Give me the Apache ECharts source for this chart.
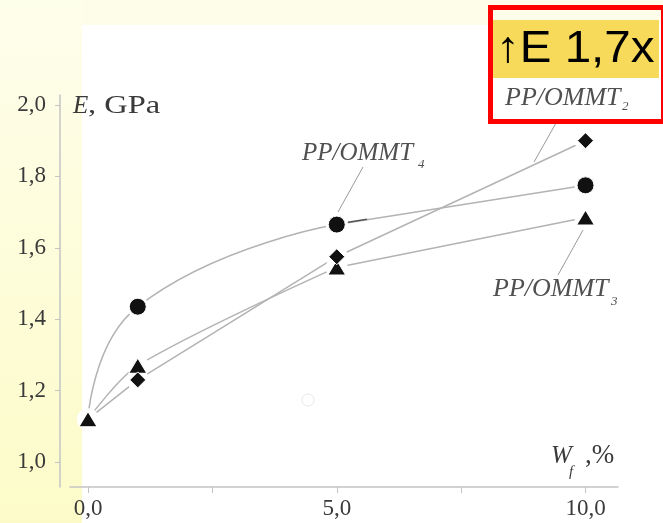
<!DOCTYPE html>
<html><head><meta charset="utf-8">
<script src="https://cdn.jsdelivr.net/npm/echarts@6/dist/echarts.min.js"></script>
<style>html,body{margin:0;padding:0;background:#fff}#c{width:663px;height:523px}</style>
</head><body><div id="c"></div>
<script>
// ---- data ----
const wf = [0, 1, 5, 10];                    // W_f, %
const ommt4 = [1.12, 1.435, 1.665, 1.775];   // PP/OMMT4 (circles)
const ommt3 = [1.12, 1.27, 1.545, 1.685];    // PP/OMMT3 (triangles)
const ommt2 = [1.12, 1.23, 1.575, 1.90];     // PP/OMMT2 (diamonds)
const xTicks = [0, 2.5, 5, 7.5, 10];
const xLabels = [0, 5, 10];
const yTicks = [1.0, 1.2, 1.4, 1.6, 1.8, 2.0];

const fmt = v => Number(v).toFixed(1).replace('.', ',');
const pts = (ys, a, b) => wf.slice(a, b).map((x, i) => [x, ys[a + i]]);

const LINE = { color: '#b3b3b3', width: 1.5 };
const SERIF = 'Liberation Serif';
const lineSeries = (data, smooth) => ({
  type: 'line', data, smooth, symbol: 'none', z: 2, silent: true,
  lineStyle: LINE, animation: false
});
const markSeries = (data, symbol, size) => ({
  type: 'scatter', data, symbol, symbolSize: size, z: 4, silent: true,
  itemStyle: { color: '#111111', opacity: 1, borderColor: '#fff', borderWidth: 1 }, animation: false
});

const chart = echarts.init(document.getElementById('c'), null, { renderer: 'canvas' });
chart.setOption({
  backgroundColor: '#ffffff',
  animation: false,
  grid: { left: 70, right: 45, top: 95, bottom: 36, containLabel: false, outerBoundsMode: 'none' },
  xAxis: {
    type: 'value', min: -0.362, max: 10.653,
    axisLine: { show: true, onZero: false, lineStyle: { color: '#c4c4c4', width: 1.5 } },
    axisTick: { show: true, length: 6, customValues: xTicks, lineStyle: { color: '#c4c4c4', width: 1 } },
    axisLabel: { customValues: xLabels, formatter: fmt, fontFamily: SERIF, fontSize: 23, color: '#3a3a3a', margin: 10 },
    splitLine: { show: false }
  },
  yAxis: {
    type: 'value', min: 0.93, max: 2.028, offset: 10,
    axisLine: { show: true, onZero: false, lineStyle: { color: '#c4c4c4', width: 1.5 } },
    axisTick: { show: true, length: 5, customValues: yTicks, lineStyle: { color: '#c4c4c4', width: 1 } },
    axisLabel: { customValues: yTicks, formatter: fmt, fontFamily: SERIF, fontSize: 23, color: '#3a3a3a', margin: 14 },
    splitLine: { show: false }
  },
  series: [
    lineSeries(pts(ommt4, 0, 3), 0.5),
    lineSeries(pts(ommt4, 2, 4), false),
    lineSeries(pts(ommt3, 0, 3), 0.3),
    lineSeries(pts(ommt3, 2, 4), false),
    lineSeries(pts(ommt2, 0, 4), false),
    // white halos that open small gaps in the lines around each marker
    { type: 'scatter', data: pts(ommt4, 0, 4).concat(pts(ommt3, 1, 4), pts(ommt2, 1, 4)),
      symbol: 'circle', symbolSize: 22, z: 3, silent: true, itemStyle: { color: '#ffffff', opacity: 1 }, animation: false },
    markSeries(pts(ommt4, 1, 4), 'circle', 17),
    markSeries(pts(ommt3, 0, 4), 'triangle', [18, 15]),
    markSeries(pts(ommt2, 1, 4), 'diamond', [16, 16])
  ],
  graphic: [
    { type: 'rect', z: -10, shape: { x: 0, y: 0, width: 663, height: 25 }, style: { fill: '#fefde9' } },
    { type: 'rect', z: -9, shape: { x: 0, y: 0, width: 82, height: 523 },
      style: { fill: { type: 'linear', x: 0, y: 0, x2: 0, y2: 1, colorStops: [
        { offset: 0, color: '#fefeec' }, { offset: 1, color: '#fcfbc8' }] } } },
    // highlight box
    { type: 'rect', z: 10, shape: { x: 493, y: 20, width: 166, height: 58 }, style: { fill: '#f8da5a' } },
    { type: 'rect', z: 11, shape: { x: 490.5, y: 7.5, width: 173, height: 114 },
      style: { fill: 'transparent', stroke: '#ff0000', lineWidth: 5 } },
    { type: 'text', z: 12, x: 496, y: 50, scaleX: 1.08,
      style: { text: '↑E 1,7x', fontFamily: 'Liberation Sans', fontSize: 44, fill: '#000', verticalAlign: 'middle', align: 'left' } },
    // series labels
    { type: 'text', z: 12, x: 505, y: 98, style: { text: 'PP/OMMT', fontFamily: SERIF, fontStyle: 'italic', fontSize: 26, fill: '#505050', verticalAlign: 'middle' } },
    { type: 'text', z: 12, x: 622, y: 107, style: { text: '2', fontFamily: SERIF, fontStyle: 'italic', fontSize: 13, fill: '#505050', verticalAlign: 'middle' } },
    { type: 'text', z: 12, x: 302, y: 153, style: { text: 'PP/OMMT', fontFamily: SERIF, fontStyle: 'italic', fontSize: 25, fill: '#505050', verticalAlign: 'middle' } },
    { type: 'text', z: 12, x: 418, y: 165, style: { text: '4', fontFamily: SERIF, fontStyle: 'italic', fontSize: 13, fill: '#505050', verticalAlign: 'middle' } },
    { type: 'text', z: 12, x: 493, y: 289, style: { text: 'PP/OMMT', fontFamily: SERIF, fontStyle: 'italic', fontSize: 26, fill: '#505050', verticalAlign: 'middle' } },
    { type: 'text', z: 12, x: 611, y: 302, style: { text: '3', fontFamily: SERIF, fontStyle: 'italic', fontSize: 13, fill: '#505050', verticalAlign: 'middle' } },
    // leader lines
    { type: 'line', z: 1, shape: { x1: 556, y1: 123, x2: 534, y2: 162 }, style: { stroke: '#9a9a9a', lineWidth: 1 } },
    { type: 'line', z: 1, shape: { x1: 363, y1: 167, x2: 338, y2: 212 }, style: { stroke: '#9a9a9a', lineWidth: 1 } },
    { type: 'line', z: 1, shape: { x1: 583, y1: 230, x2: 558, y2: 275 }, style: { stroke: '#9a9a9a', lineWidth: 1 } },
    // darker stub on circle line
    { type: 'line', z: 5, shape: { x1: 348, y1: 222.2, x2: 367, y2: 219.3 }, style: { stroke: '#555', lineWidth: 1.5 } },
    // faint scan artifact
    { type: 'circle', z: 1, shape: { cx: 308, cy: 400, r: 6 }, style: { fill: 'transparent', stroke: '#e8e8e8', lineWidth: 1 } },
    // axis names
    { type: 'text', z: 12, x: 73, y: 106.5, style: { text: 'E', fontFamily: SERIF, fontStyle: 'italic', fontSize: 25, fill: '#3a3a3a', verticalAlign: 'middle' } },
    { type: 'text', z: 12, x: 88, y: 106.5, scaleX: 1.3, style: { text: ', GPa', fontFamily: SERIF, fontSize: 25, fill: '#3a3a3a', verticalAlign: 'middle' } },
    { type: 'text', z: 12, x: 551, y: 456, style: { text: 'W', fontFamily: SERIF, fontStyle: 'italic', fontSize: 25, fill: '#3a3a3a', verticalAlign: 'middle' } },
    { type: 'text', z: 12, x: 569, y: 472, style: { text: 'f', fontFamily: SERIF, fontStyle: 'italic', fontSize: 15, fill: '#3a3a3a', verticalAlign: 'middle' } },
    { type: 'text', z: 12, x: 585, y: 456, style: { text: ',%', fontFamily: SERIF, fontSize: 27, fill: '#3a3a3a', verticalAlign: 'middle' } }
  ]
});
</script>
</body></html>
